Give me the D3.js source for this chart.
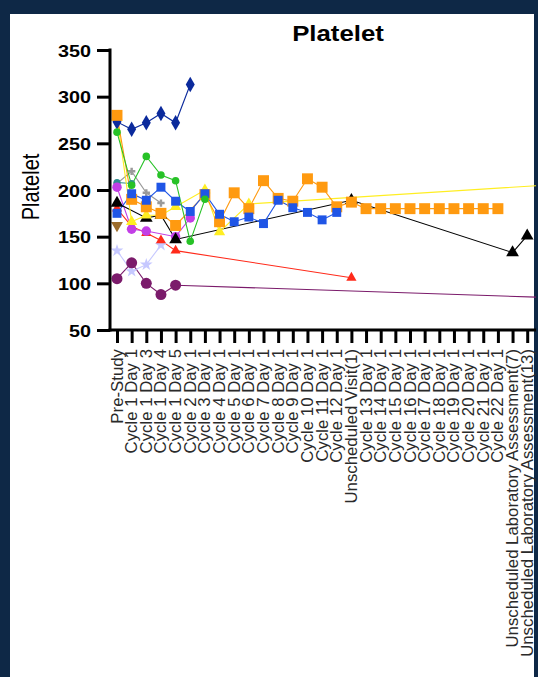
<!DOCTYPE html>
<html>
<head>
<meta charset="utf-8">
<script src="https://cdn.jsdelivr.net/npm/d3@7"></script>
<style>
  html, body { margin: 0; padding: 0; background: #0e2846; }
  svg { display: block; }
  text { font-family: Arial, "Liberation Sans", Helvetica, sans-serif; }
</style>
</head>
<body>
<svg id="chart" width="538" height="677"></svg>
<script>
// Visit schedule along the x axis (the last visit lies past the right edge of the panel)
const categories = [
  "Pre-Study", "Cycle 1 Day 1", "Cycle 1 Day 3", "Cycle 1 Day 4", "Cycle 1 Day 5",
  "Cycle 2 Day 1", "Cycle 3 Day 1", "Cycle 4 Day 1", "Cycle 5 Day 1", "Cycle 6 Day 1",
  "Cycle 7 Day 1", "Cycle 8 Day 1", "Cycle 9 Day 1", "Cycle 10 Day 1", "Cycle 11 Day 1",
  "Cycle 12 Day 1", "Unscheduled Visit(1)", "Cycle 13 Day 1", "Cycle 14 Day 1",
  "Cycle 15 Day 1", "Cycle 16 Day 1", "Cycle 17 Day 1", "Cycle 18 Day 1", "Cycle 19 Day 1",
  "Cycle 20 Day 1", "Cycle 21 Day 1", "Cycle 22 Day 1",
  "Unscheduled Laboratory Assessment(7)", "Unscheduled Laboratory Assessment(13)",
  "End of Treatment"
];
const visibleVisits = categories.slice(0, 29);
const yTicks = [50, 100, 150, 200, 250, 300, 350];

// One array of [visit, platelet count] per subject
const subjNavy = [["Pre-Study", 273], ["Cycle 1 Day 1", 265], ["Cycle 1 Day 3", 272],
  ["Cycle 1 Day 4", 282], ["Cycle 1 Day 5", 272], ["Cycle 2 Day 1", 313]];
const subjGreen = [["Pre-Study", 262], ["Cycle 1 Day 1", 205], ["Cycle 1 Day 3", 236],
  ["Cycle 1 Day 4", 216], ["Cycle 1 Day 5", 210], ["Cycle 2 Day 1", 145], ["Cycle 3 Day 1", 190]];
const subjTeal = [["Pre-Study", 208], ["Cycle 1 Day 1", 207]];
const subjGray = [["Pre-Study", 207], ["Cycle 1 Day 1", 220], ["Cycle 1 Day 3", 197],
  ["Cycle 1 Day 4", 186]];
const subjBlue = [["Pre-Study", 175], ["Cycle 1 Day 1", 196], ["Cycle 1 Day 3", 189],
  ["Cycle 1 Day 4", 203], ["Cycle 1 Day 5", 188], ["Cycle 2 Day 1", 177], ["Cycle 3 Day 1", 196],
  ["Cycle 4 Day 1", 174], ["Cycle 5 Day 1", 166], ["Cycle 6 Day 1", 171], ["Cycle 7 Day 1", 164],
  ["Cycle 8 Day 1", 189], ["Cycle 9 Day 1", 181], ["Cycle 10 Day 1", 176], ["Cycle 11 Day 1", 168],
  ["Cycle 12 Day 1", 176]];
const subjOrange = [["Pre-Study", 280], ["Cycle 1 Day 1", 190], ["Cycle 1 Day 3", 182],
  ["Cycle 1 Day 4", 175], ["Cycle 1 Day 5", 162], ["Cycle 3 Day 1", 195], ["Cycle 4 Day 1", 166],
  ["Cycle 5 Day 1", 197], ["Cycle 6 Day 1", 180], ["Cycle 7 Day 1", 210], ["Cycle 8 Day 1", 191],
  ["Cycle 9 Day 1", 188], ["Cycle 10 Day 1", 212], ["Cycle 11 Day 1", 203], ["Cycle 12 Day 1", 182],
  ["Unscheduled Visit(1)", 187], ["Cycle 13 Day 1", 180], ["Cycle 14 Day 1", 180],
  ["Cycle 15 Day 1", 180], ["Cycle 16 Day 1", 180], ["Cycle 17 Day 1", 180], ["Cycle 18 Day 1", 180],
  ["Cycle 19 Day 1", 180], ["Cycle 20 Day 1", 180], ["Cycle 21 Day 1", 180], ["Cycle 22 Day 1", 180]];
const subjBlack = [["Pre-Study", 186], ["Cycle 1 Day 3", 170], ["Cycle 1 Day 4", 173],
  ["Cycle 1 Day 5", 147], ["Unscheduled Visit(1)", 189],
  ["Unscheduled Laboratory Assessment(7)", 133], ["Unscheduled Laboratory Assessment(13)", 151]];
const subjYellow = [["Pre-Study", 278], ["Cycle 1 Day 1", 166], ["Cycle 1 Day 3", 173],
  ["Cycle 1 Day 4", 173], ["Cycle 1 Day 5", 182], ["Cycle 3 Day 1", 200], ["Cycle 4 Day 1", 155],
  ["Cycle 6 Day 1", 185], ["End of Treatment", 205]];
const subjRed = [["Pre-Study", 180], ["Cycle 1 Day 1", 161], ["Cycle 1 Day 3", 154],
  ["Cycle 1 Day 4", 146], ["Cycle 1 Day 5", 135], ["Unscheduled Visit(1)", 106]];
const subjViolet = [["Pre-Study", 203], ["Cycle 1 Day 1", 158], ["Cycle 1 Day 3", 156],
  ["Cycle 1 Day 5", 150], ["Cycle 2 Day 1", 170]];
const subjPlum = [["Pre-Study", 105], ["Cycle 1 Day 1", 122], ["Cycle 1 Day 3", 100],
  ["Cycle 1 Day 4", 88], ["Cycle 1 Day 5", 98], ["End of Treatment", 85]];
const subjLavender = [["Pre-Study", 135], ["Cycle 1 Day 1", 113], ["Cycle 1 Day 3", 120],
  ["Cycle 1 Day 4", 141]];
const subjBrown = [["Pre-Study", 162]];

// Drawing order, colour and marker of each subject
const subjects = [
  { data: subjLavender, color: "#c6c8ff", symbol: d3.symbolStar, size: 50 },
  { data: subjGray, color: "#9a9a9a", symbol: d3.symbolCross, size: 30 },
  { data: subjTeal, color: "#2f8f8f", symbol: d3.symbolCircle, size: 40 },
  { data: subjPlum, color: "#7b1b6b", symbol: d3.symbolCircle, size: 95 },
  { data: subjRed, color: "#ff2a1a", symbol: d3.symbolTriangle, size: 45 },
  { data: subjViolet, color: "#c23ee6", symbol: d3.symbolCircle, size: 70 },
  { data: subjBlack, color: "#000000", symbol: d3.symbolTriangle, size: 70 },
  { data: subjYellow, color: "#ffee22", symbol: d3.symbolTriangle, size: 55 },
  { data: subjNavy, color: "#0b2a9c", symbol: d3.symbolDiamond, size: 70 },
  { data: subjOrange, color: "#ff9a10", symbol: d3.symbolSquare, size: 120 },
  { data: subjBlue, color: "#1f55e6", symbol: d3.symbolSquare, size: 80 },
  { data: subjGreen, color: "#27c227", symbol: d3.symbolCircle, size: 45 },
  { data: subjBrown, color: "#9b6b2b", symbol: d3.symbolTriangle, size: 60, flip: true }
];

const svg = d3.select("#chart");
const stretch = 1.2;  // title and value labels are drawn a little wide

// White panel
svg.append("rect").attr("x", 10).attr("y", 14).attr("width", 524).attr("height", 663)
  .attr("fill", "#ffffff");
svg.append("clipPath").attr("id", "panel").append("rect")
  .attr("x", 10).attr("y", 14).attr("width", 526).attr("height", 663);

const root = svg.append("g").attr("clip-path", "url(#panel)");

const x = d3.scalePoint().domain(categories).range([117, 117 + 14.65 * (categories.length - 1)]);
const y = d3.scaleLinear().domain([50, 350]).range([330, 50]);

// Series lines and markers
const line = d3.line().x(d => x(d[0])).y(d => y(d[1]));
subjects.forEach(s => {
  root.append("path").datum(s.data).attr("d", line)
    .attr("fill", "none").attr("stroke", s.color).attr("stroke-width", 1.1);
});
subjects.forEach(s => {
  const sym = d3.symbol().type(s.symbol).size(s.size);
  root.append("g").selectAll("path").data(s.data).join("path")
    .attr("d", sym)
    .attr("transform", d => `translate(${x(d[0])},${y(d[1])})` + (s.flip ? " rotate(180)" : ""))
    .attr("fill", s.color);
});

// Y axis
const yAxis = root.append("g").attr("transform", "translate(110,0)")
  .call(d3.axisLeft(y).tickValues(yTicks).tickSize(13).tickPadding(6).tickFormat(d3.format("d")));
yAxis.select(".domain").attr("stroke-width", 3).attr("d", `M0,${y(350) - 1.5}V${y(50) + 1.5}`);
yAxis.selectAll(".tick line").attr("stroke-width", 3);
yAxis.selectAll(".tick text")
  .attr("x", null).attr("dy", null).attr("text-anchor", "end")
  .attr("font-size", 16.5).attr("font-weight", "bold").attr("fill", "#000")
  .attr("transform", "translate(-19,6) scale(" + stretch + ",1)");

// X axis
const xAxis = root.append("g").attr("transform", `translate(0,${y(50)})`)
  .call(d3.axisBottom(x).tickValues(visibleVisits).tickSize(13).tickPadding(6));
xAxis.select(".domain").attr("stroke-width", 3).attr("d", "M108.5,0H545");
xAxis.selectAll(".tick line").attr("stroke-width", 3);
xAxis.selectAll(".tick text")
  .attr("y", null).attr("dy", "0.3em").attr("text-anchor", "end")
  .attr("font-size", 16.8).attr("fill", "#2a2a2a")
  .attr("transform", "translate(0,19) rotate(-90)");

// Titles
svg.append("text").attr("transform", `translate(338,41) scale(${stretch},1)`)
  .attr("text-anchor", "middle").attr("font-size", 21.5).attr("font-weight", "bold")
  .text("Platelet");
svg.append("text").attr("transform", `translate(39,187) scale(${stretch},1) rotate(-90)`)
  .attr("text-anchor", "middle").attr("font-size", 20)
  .text("Platelet");
</script>
</body>
</html>
